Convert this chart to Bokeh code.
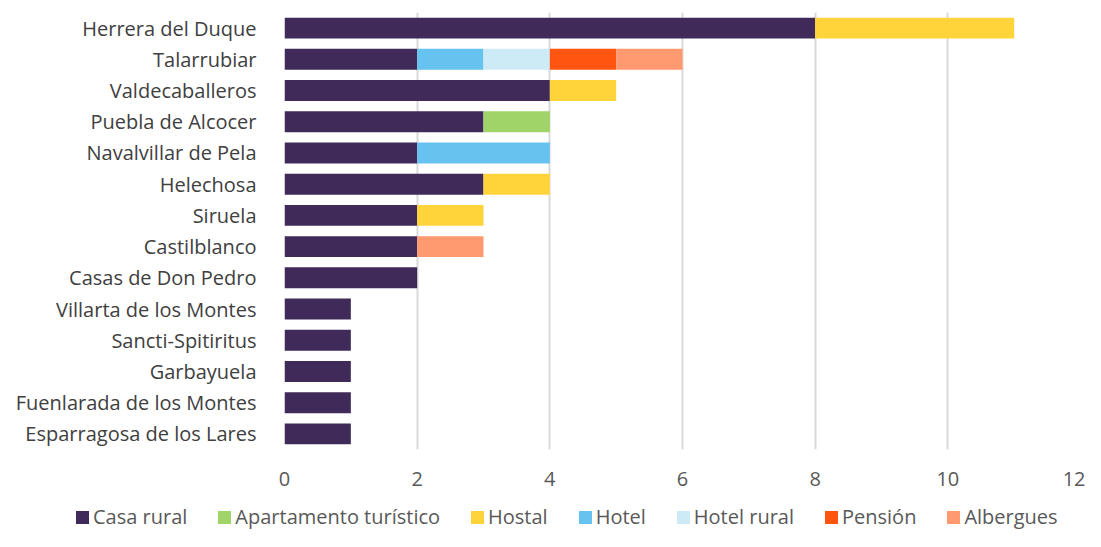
from bokeh.plotting import figure
from bokeh.layouts import column
from bokeh.models import FactorRange, Range1d, FixedTicker, ColumnDataSource, Div
from bokeh.embed import file_html
from bokeh.resources import INLINE

municipios = ["Herrera del Duque", "Talarrubiar", "Valdecaballeros", "Puebla de Alcocer",
              "Navalvillar de Pela", "Helechosa", "Siruela", "Castilblanco",
              "Casas de Don Pedro", "Villarta de los Montes", "Sancti-Spitiritus",
              "Garbayuela", "Fuenlarada de los Montes", "Esparragosa de los Lares"]
casa_rural   = [8, 2, 4, 3, 2, 3, 2, 2, 2, 1, 1, 1, 1, 1]
apartamento  = [0, 0, 0, 1, 0, 0, 0, 0, 0, 0, 0, 0, 0, 0]
hostal       = [3, 0, 1, 0, 0, 1, 1, 0, 0, 0, 0, 0, 0, 0]
hotel        = [0, 1, 0, 0, 2, 0, 0, 0, 0, 0, 0, 0, 0, 0]
hotel_rural  = [0, 1, 0, 0, 0, 0, 0, 0, 0, 0, 0, 0, 0, 0]
pension      = [0, 1, 0, 0, 0, 0, 0, 0, 0, 0, 0, 0, 0, 0]
albergues    = [0, 1, 0, 0, 0, 0, 0, 1, 0, 0, 0, 0, 0, 0]
series_names = ["Casa rural", "Apartamento turístico", "Hostal", "Hotel", "Hotel rural", "Pensión", "Albergues"]
x_ticks = [0, 2, 4, 6, 8, 10, 12]

keys = ["casa_rural", "apartamento", "hostal", "hotel", "hotel_rural", "pension", "albergues"]
colors = ["#3f2a5a", "#a0d468", "#ffd43b", "#66c2ee", "#cdebf7", "#ff5511", "#ff9a70"]

src = ColumnDataSource(dict(y=municipios, casa_rural=casa_rural, apartamento=apartamento,
                            hostal=hostal, hotel=hotel, hotel_rural=hotel_rural,
                            pension=pension, albergues=albergues))

FONT = "Open Sans"
p = figure(width=1085, height=495, output_backend="svg", toolbar_location=None,
           y_range=FactorRange(factors=list(reversed(municipios)), range_padding=0),
           x_range=Range1d(0, 12))
p.min_border_left = 284
p.min_border_right = 5
p.min_border_top = 12
p.min_border_bottom = 46
p.outline_line_color = None

renderers = p.hbar_stack(keys, y="y", height=0.67, color=colors, source=src, line_color=None)

p.xaxis.ticker = FixedTicker(ticks=x_ticks)
p.xaxis.axis_line_color = None
p.xaxis.major_tick_line_color = None
p.xaxis.minor_tick_line_color = None
p.xaxis.major_label_text_font = FONT
p.xaxis.major_label_text_font_size = "20px"
p.xaxis.major_label_text_color = "#595959"
p.xaxis.major_label_standoff = 16

p.yaxis.axis_line_color = None
p.yaxis.major_tick_line_color = None
p.yaxis.major_label_text_font = FONT
p.yaxis.major_label_text_font_size = "20px"
p.yaxis.major_label_text_color = "#404040"
p.yaxis.major_label_standoff = 22

p.xgrid.grid_line_color = "#d9d9d9"
p.xgrid.grid_line_width = 2
p.ygrid.grid_line_color = None

# legend strip (HTML, real text)
parts = []
for n, c in zip(series_names, colors):
    parts.append(
        f'<span style="display:inline-flex;align-items:center;margin-right:31px;">'
        f'<span style="display:inline-block;width:13px;height:13px;background:{c};margin-right:4px;"></span>'
        f'<span>{n}</span></span>')
html = ('<div style="font-family:\'Open Sans\';font-size:20px;color:#595959;white-space:nowrap;'
        'box-sizing:border-box;height:36px;display:flex;align-items:flex-end;'
        'padding-left:76px;padding-bottom:1px;line-height:26px;">' + "".join(parts) + '</div>')
leg = Div(text=html, width=1085, height=36, margin=0)

layout = column(p, leg, spacing=0)
open("out.html", "w").write(file_html(layout, INLINE))
